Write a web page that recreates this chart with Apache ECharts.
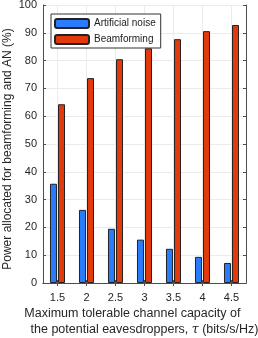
<!DOCTYPE html>
<html><head><meta charset="utf-8">
<script src="https://cdn.jsdelivr.net/npm/echarts@6/dist/echarts.min.js"></script>
<style>html,body{margin:0;padding:0;background:#fff}#c{width:258px;height:338px}</style>
</head><body><div id="c"></div>
<script>
const categories = ['1.5','2','2.5','3','3.5','4','4.5'];
const artificialNoise = [35.7, 26.3, 19.5, 15.6, 12.3, 9.4, 7.2];
const beamforming = [64.3, 73.7, 80.5, 84.4, 87.7, 90.6, 92.8];
const yTicks = [0,10,20,30,40,50,60,70,80,90,100];

const chart = echarts.init(document.getElementById('c'), null, {renderer:'canvas'});
const F = 'Liberation Sans, Arial, Helvetica, sans-serif';
const axisCol = '#4d4d4d';
const gridCol = '#ebebeb';
chart.setOption({
  animation:false,
  textStyle:{fontFamily:F},
  grid:{left:43, right:12, top:5, bottom:55, containLabel:false, outerBoundsMode:'none'},
  legend:{
    orient:'vertical', left:51, top:14,
    itemWidth:34, itemHeight:9, itemGap:5,
    padding:[4,5,3,3],
    backgroundColor:'#fff', borderColor:'#333', borderWidth:1,
    textStyle:{fontSize:10, color:'#222', fontFamily:F},
    data:[{name:'Artificial noise'},{name:'Beamforming'}]
  },
  xAxis:[{
    type:'category', data:categories, boundaryGap:true,
    axisLine:{lineStyle:{color:axisCol, width:1}},
    axisTick:{show:true, inside:true, alignWithLabel:true, length:3, lineStyle:{color:axisCol}},
    splitLine:{show:true, alignWithLabel:true, lineStyle:{color:gridCol, width:1}},
    axisLabel:{fontSize:11, color:'#262626', margin:9, fontFamily:F},
    name:'{a|Maximum tolerable channel capacity of}       \n{a|the potential eavesdroppers, }{t|τ}{a| (bits/s/Hz)}',
    nameLocation:'middle', nameGap:22, nameMoveOverlap:false,
    nameTextStyle:{fontSize:12.5, color:'#262626', lineHeight:16.5, verticalAlign:'top',
      rich:{a:{fontSize:12.5, color:'#262626', fontFamily:F, lineHeight:16.5},
            t:{fontSize:12.5, color:'#262626', fontFamily:'DejaVu Serif, serif', fontStyle:'italic', lineHeight:16.5}}}
  },{
    type:'category', data:categories, position:'top', boundaryGap:true,
    axisLine:{show:true, lineStyle:{color:axisCol}},
    axisTick:{show:true, inside:true, alignWithLabel:true, length:3, lineStyle:{color:axisCol}},
    axisLabel:{show:false}, splitLine:{show:false}
  }],
  yAxis:[{
    type:'value', min:0, max:100, interval:10,
    axisLine:{show:true, lineStyle:{color:axisCol}},
    axisTick:{show:true, inside:true, length:3, lineStyle:{color:axisCol}},
    splitLine:{show:true, lineStyle:{color:gridCol}},
    axisLabel:{fontSize:11, color:'#262626', margin:6, fontFamily:F,
      formatter:v=> yTicks.indexOf(v)>=0 ? String(v) : ''},
    name:'Power allocated for beamforming and AN (%)   ',
    nameLocation:'middle', nameGap:29, nameMoveOverlap:false,
    nameTextStyle:{fontSize:12, color:'#262626', fontFamily:F}
  },{
    type:'value', min:0, max:100, interval:10, position:'right',
    axisLine:{show:true, lineStyle:{color:axisCol}},
    axisTick:{show:true, inside:true, length:3, lineStyle:{color:axisCol}},
    axisLabel:{show:false}, splitLine:{show:false}
  }],
  series:[{
    name:'Artificial noise', type:'bar', data:artificialNoise,
    barWidth:7, barGap:'15%',
    itemStyle:{color:'#2a7cff', borderColor:'#222', borderWidth:1}
  },{
    name:'Beamforming', type:'bar', data:beamforming,
    barWidth:7,
    itemStyle:{color:'#e33a0b', borderColor:'#222', borderWidth:1}
  }]
});
</script></body></html>
